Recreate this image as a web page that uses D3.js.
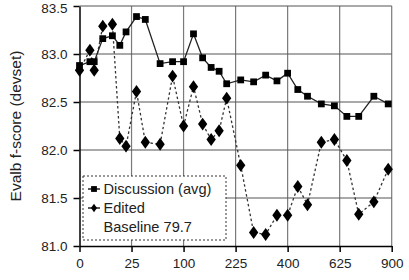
<!DOCTYPE html>
<html><head><meta charset="utf-8">
<script src="https://cdn.jsdelivr.net/npm/d3@7"></script>
<style>html,body{margin:0;padding:0;background:#fff;}svg{display:block;font-family:"Liberation Sans",Arial,sans-serif;}</style>
</head><body>
<svg id="c" width="409" height="280"></svg>
<script>
const xValues = [0,1,2,5,10,15,20,30,40,60,80,100,120,140,160,180,200,240,280,320,360,400,440,480,540,600,660,720,800,880];
const discussion = [82.88,82.92,82.92,83.16,83.19,83.09,83.23,83.39,83.36,82.90,82.92,82.92,83.21,82.96,82.86,82.82,82.69,82.73,82.71,82.78,82.72,82.80,82.63,82.56,82.48,82.46,82.35,82.35,82.56,82.48];
const edited = [82.83,83.04,82.83,83.29,83.31,82.12,82.04,82.61,82.08,82.06,82.77,82.25,82.66,82.27,82.11,82.20,82.54,81.84,81.14,81.12,81.32,81.32,81.62,81.43,82.08,82.11,81.89,81.33,81.46,81.80];
const xTicks = [0,25,100,225,400,625,900];
const yTicks = [81.0,81.5,82.0,82.5,83.0,83.5];
const legendLabels = ["Discussion (avg)","Edited","Baseline 79.7"];
const yTitle = "Evalb f-score (devset)";

const svg = d3.select("#c");
const L=79.5, R=391.7, T=6, B=246;
const x = d3.scaleSqrt().domain([0,900]).range([L,R]);
const y = d3.scaleLinear().domain([81,83.5]).range([B,T]);

// grid
const g = svg.append("g");
g.selectAll(".vg").data(xTicks.slice(1)).join("line")
  .attr("x1",d=>x(d)).attr("x2",d=>x(d)).attr("y1",T).attr("y2",B)
  .attr("stroke","#7a7a7a").attr("stroke-width",1.2);
g.selectAll(".hg").data(yTicks.slice(1)).join("line")
  .attr("x1",L).attr("x2",R).attr("y1",d=>y(d)).attr("y2",d=>y(d))
  .attr("stroke","#555").attr("stroke-width",1.2);

// axes
const xAxis = d3.axisBottom(x).tickValues(xTicks).tickFormat(d3.format("d")).tickSizeInner(6).tickSizeOuter(0).tickPadding(6);
const yAxis = d3.axisLeft(y).tickValues(yTicks).tickFormat(d3.format(".1f")).tickSizeInner(6).tickSizeOuter(0).tickPadding(6);
const xa = svg.append("g").attr("transform",`translate(0,${B})`).call(xAxis);
const ya = svg.append("g").attr("transform",`translate(${L},0)`).call(yAxis);
[xa,ya].forEach(a=>{
  a.selectAll("path").attr("stroke","#000").attr("stroke-width",1.5);
  a.selectAll("line").attr("stroke","#000").attr("stroke-width",1.5);
  a.selectAll("text").attr("font-size",13.5).attr("fill","#222").attr("font-family","Liberation Sans, Arial, sans-serif");
});
ya.selectAll("text").attr("dy","0.36em");
ya.selectAll(".tick").filter(d=>d===83.5).select("text").attr("dy","0.5em");

// y title
svg.append("text").attr("transform",`translate(17,${(T+B)/2}) rotate(-90)`)
  .attr("text-anchor","middle").attr("dominant-baseline","middle")
  .attr("font-size",15.5).attr("fill","#222").text(yTitle);

// lines
const pts1 = xValues.map((v,i)=>[v,discussion[i]]);
const pts2 = xValues.map((v,i)=>[v,edited[i]]);
const line = d3.line().x(d=>x(d[0])).y(d=>y(d[1]));
svg.append("path").attr("d",line(pts2)).attr("fill","none").attr("stroke","#333").attr("stroke-width",1.3).attr("stroke-dasharray","2.5,2.5");
svg.append("path").attr("d",line(pts1)).attr("fill","none").attr("stroke","#222").attr("stroke-width",1.3);

const sq = d3.symbol().type(d3.symbolSquare).size(46);
const dm = d3.symbol().type(d3.symbolDiamond).size(48);
svg.selectAll(".e").data(pts2).join("path").attr("d",dm)
  .attr("transform",d=>`translate(${x(d[0])},${y(d[1])}) scale(1.25,1)`).attr("fill","#000");
svg.selectAll(".s").data(pts1).join("path").attr("d",sq)
  .attr("transform",d=>`translate(${x(d[0])},${y(d[1])})`).attr("fill","#000");

// legend
const lg = svg.append("g");
lg.append("rect").attr("x",83).attr("y",176).attr("width",143).attr("height",64)
  .attr("fill","#fff").attr("stroke","#333").attr("stroke-width",1).attr("stroke-dasharray","2,2");
const ly = [189,208,227];
lg.append("line").attr("x1",88).attr("x2",100).attr("y1",ly[0]).attr("y2",ly[0]).attr("stroke","#000").attr("stroke-width",1.3);
lg.append("path").attr("d",d3.symbol().type(d3.symbolSquare).size(34)).attr("transform",`translate(94,${ly[0]})`).attr("fill","#000");
lg.append("line").attr("x1",88).attr("x2",100).attr("y1",ly[1]).attr("y2",ly[1]).attr("stroke","#000").attr("stroke-width",1.3);
lg.append("path").attr("d",d3.symbol().type(d3.symbolDiamond).size(20)).attr("transform",`translate(94,${ly[1]}) scale(1.25,1)`).attr("fill","#000");
lg.selectAll(".lt").data(legendLabels).join("text")
  .attr("x",103.5).attr("y",(d,i)=>ly[i]).attr("dominant-baseline","central")
  .attr("font-size",14.6).attr("fill","#222").text(d=>d);
</script>
</body></html>
